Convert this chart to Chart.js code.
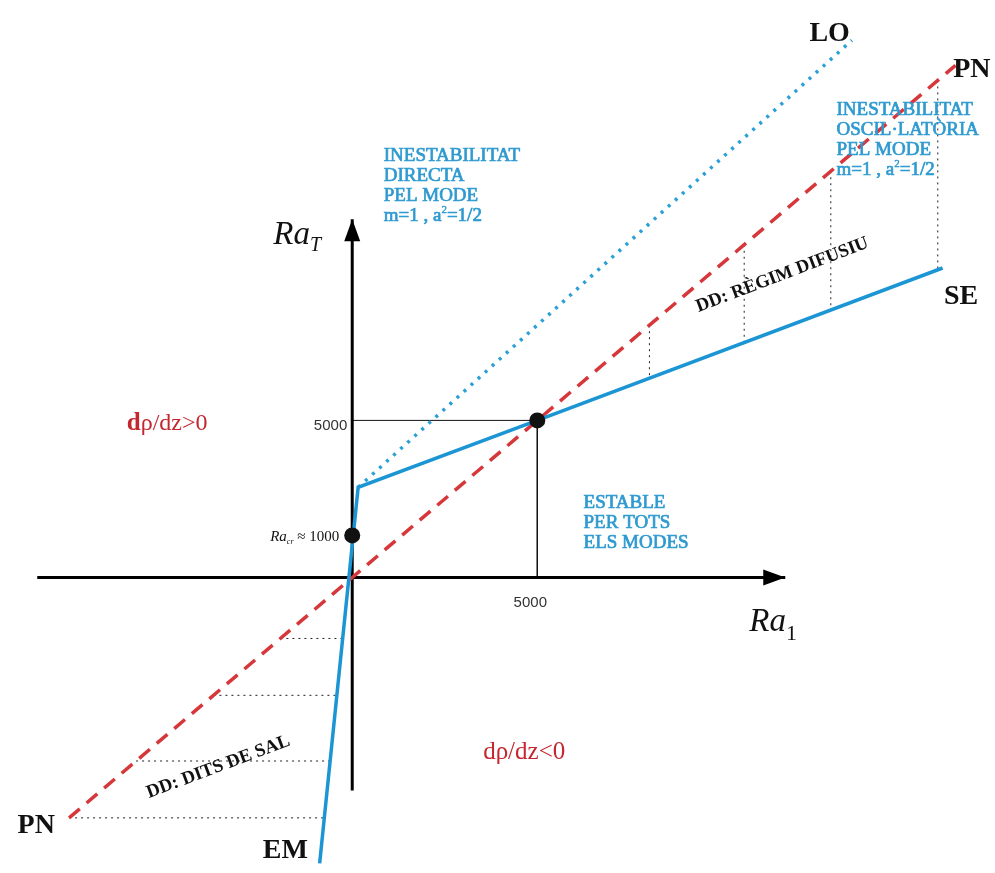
<!DOCTYPE html>
<html><head><meta charset="utf-8">
<script src="https://cdn.jsdelivr.net/npm/chart.js@4/dist/chart.umd.min.js"></script>
<style>html,body{margin:0;padding:0;background:#fff}canvas{display:block}</style>
</head><body>
<canvas id="c" width="995" height="873"></canvas>
<script>
// ---------- data (Ra1 on x, RaT on y) ----------
const xLimits = [-9300, 17150];
const yLimits = [-9150, 18125];
const axisX = [-8510, 11700];
const axisY = [-6780, 11400];
const pnX = [-7650, 16300];
const pnY = [-7650, 16300];
const seX = [-880, 160, 5000, 15950];
const seY = [-9100, 2870, 5000, 9850];
const loX = [160, 13500];
const loY = [2870, 17100];
const critX = [0, 5000];
const critY = [1340, 5000];
const refValue = 5000;
const hatchUpX = [8030, 10590, 12930, 15820];
const hatchUpTop = [8030, 10590, 12930, 15820];
const hatchUpBottom = [6350, 7480, 8510, 9790];
const hatchLowY = [-1940, -3750, -5840, -7650];
const hatchLowLeft = [-1940, -3750, -5840, -7650];
const hatchLowRight = [-258, -415, -597, -760];
const tickLabel = '5000';
const leftInstabText = ['INESTABILITAT', 'DIRECTA', 'PEL MODE'];
const rightInstabText = ['INESTABILITAT', 'OSCIL·LATÒRIA', 'PEL MODE'];
const stableText = ['ESTABLE', 'PER TOTS', 'ELS MODES'];
const modeText = ['m=1 , a', '2', '=1/2'];
const lineNames = ['LO', 'PN', 'SE', 'PN', 'EM'];
const regimeText = ['DD: RÈGIM DIFUSIU', 'DD: DITS DE SAL'];
const densityText = [['d', 'ρ/dz>0'], ['dρ/dz<0']];
const critText = ['Ra', 'cr', ' ≈ 1000'];

// ---------- styling / layout ----------
const BLUE = '#1b95d3', BLUE_DOT = '#2a9fd8', RED = '#d5373a', RED_TXT = '#c4272f', BLUE_TXT = '#2f9ad0';
const SERIF = '"Liberation Serif","Times New Roman",serif';
const SANS = '"Liberation Sans",Arial,sans-serif';

const seg = (xs, ys) => xs.map((x, i) => ({x, y: ys[i]}));
const lineDs = (data, color, width, dash, order) => ({
  data, showLine: true, borderColor: color, backgroundColor: color, borderWidth: width,
  borderDash: dash || [], pointRadius: 0, fill: false, tension: 0, order, borderCapStyle: 'butt'
});

const datasets = [];
hatchUpX.forEach((x, i) => datasets.push(lineDs(seg([x, x], [hatchUpTop[i], hatchUpBottom[i]]), '#222', 1, [2, 4], 9)));
hatchLowY.forEach((y, i) => datasets.push(lineDs(seg([hatchLowLeft[i], hatchLowRight[i]], [y, y]), '#222', 1, [2, 4], 9)));
datasets.push(lineDs(seg([0, refValue, refValue], [refValue, refValue, 0]), '#111', 1, [], 8));
datasets.push(lineDs(seg(axisX, [0, 0]), '#000', 3, [], 6));
datasets.push(lineDs(seg([0, 0], axisY), '#000', 3, [], 6));
datasets.push(lineDs(seg(pnX, pnY), RED, 3.5, [14, 9], 4));
datasets.push(lineDs(seg(loX, loY), BLUE_DOT, 3.5, [3, 6.5], 3));
datasets.push(lineDs(seg(seX, seY), BLUE, 3.5, [], 2));
datasets.push({data: seg(critX, critY), showLine: false, pointRadius: 8, pointHoverRadius: 8,
  backgroundColor: '#111', borderColor: '#111', borderWidth: 0, order: 0});

function drawRich(ctx, x, y, segs, align) {
  let w = 0;
  segs.forEach(s => { ctx.font = s.font; s.w = ctx.measureText(s.t).width; w += s.w; });
  let cx = align === 'center' ? x - w / 2 : align === 'right' ? x - w : x;
  ctx.textAlign = 'left'; ctx.textBaseline = 'alphabetic';
  segs.forEach(s => {
    ctx.font = s.font; ctx.fillStyle = s.color;
    ctx.fillText(s.t, cx, y + (s.dy || 0));
    if (s.stroke) { ctx.strokeStyle = s.color; ctx.lineWidth = s.stroke; ctx.strokeText(s.t, cx, y + (s.dy || 0)); }
    cx += s.w;
  });
}

const overlay = {
  id: 'overlay',
  afterDatasetsDraw(chart) {
    const {ctx, scales: {x: sx, y: sy}} = chart;
    const px = v => sx.getPixelForValue(v), py = v => sy.getPixelForValue(v);
    ctx.save();
    // arrowheads
    ctx.fillStyle = '#000';
    const tx = px(axisX[1]), oy = py(0);
    ctx.beginPath(); ctx.moveTo(tx, oy); ctx.lineTo(tx - 22, oy - 8); ctx.lineTo(tx - 22, oy + 8); ctx.closePath(); ctx.fill();
    const ox = px(0), ty = py(axisY[1]);
    ctx.beginPath(); ctx.moveTo(ox, ty); ctx.lineTo(ox - 8, ty + 22); ctx.lineTo(ox + 8, ty + 22); ctx.closePath(); ctx.fill();

    // blue text blocks
    const bf = '19px ' + SERIF, sf = '11px ' + SERIF;
    const modeSegs = [{t: modeText[0], font: bf, color: BLUE_TXT, stroke: 0.7}, {t: modeText[1], font: sf, color: BLUE_TXT, dy: -8, stroke: 0.4}, {t: modeText[2], font: bf, color: BLUE_TXT, stroke: 0.7}];
    const block = (lines, ax, ay, withMode) => {
      let bx = px(ax), by = py(ay) + 6;
      lines.forEach((l, i) => drawRich(ctx, bx, by + i * 20, [{t: l, font: bf, color: BLUE_TXT, stroke: 0.7}], 'left'));
      if (withMode) drawRich(ctx, bx, by + lines.length * 20, modeSegs, 'left');
    };
    block(leftInstabText, 851, 13440, true);
    block(rightInstabText, 13085, 14906, true);
    block(stableText, 6250, 2406, false);

    // density labels
    drawRich(ctx, px(-6090), py(4938) + 8, [{t: densityText[0][0], font: 'bold 25px ' + SERIF, color: RED_TXT}, {t: densityText[0][1], font: '24px ' + SERIF, color: RED_TXT}], 'left');
    drawRich(ctx, px(3537), py(-5531) + 8, [{t: densityText[1][0], font: '25px ' + SERIF, color: RED_TXT}], 'left');

    // line names
    const nameAt = [[12899, 17406], [16740, 16250], [16450, 9031], [-8537, -7812], [-1809, -8594]];
    lineNames.forEach((n, i) => drawRich(ctx, px(nameAt[i][0]), py(nameAt[i][1]) + 10, [{t: n, font: 'bold 28px ' + SERIF, color: '#111'}], 'center'));

    // rotated regime labels
    const regAt = [[11622, 9625, -20.8], [-3617, -6031, -20.5]];
    regimeText.forEach((t, i) => {
      ctx.save();
      ctx.translate(px(regAt[i][0]), py(regAt[i][1]));
      ctx.rotate(regAt[i][2] * Math.PI / 180);
      ctx.font = 'bold 18.5px ' + SERIF; ctx.fillStyle = '#111'; ctx.textAlign = 'center'; ctx.textBaseline = 'middle';
      ctx.fillText(t, 0, 0);
      ctx.restore();
    });

    // axis titles
    drawRich(ctx, px(0) - 79, py(axisY[1]) + 25, [{t: 'Ra', font: 'italic 33px ' + SERIF, color: '#111'}, {t: 'T', font: 'italic 20px ' + SERIF, color: '#111', dy: 7}], 'left');
    drawRich(ctx, px(axisX[1]) - 36, py(0) + 53, [{t: 'Ra', font: 'italic 33px ' + SERIF, color: '#111'}, {t: '1', font: '22px ' + SERIF, color: '#111', dy: 9}], 'left');

    // tick labels
    drawRich(ctx, px(0) - 5, py(refValue) + 10, [{t: tickLabel, font: '15px ' + SANS, color: '#333'}], 'right');
    drawRich(ctx, px(refValue) - 7, py(0) + 29, [{t: tickLabel, font: '15px ' + SANS, color: '#333'}], 'center');

    // critical Rayleigh label
    drawRich(ctx, px(critX[0]) - 13, py(critY[0]) + 6, [
      {t: critText[0], font: 'italic 15px ' + SERIF, color: '#111'},
      {t: critText[1], font: 'italic 8px ' + SERIF, color: '#111', dy: 3},
      {t: critText[2], font: '15px ' + SERIF, color: '#111'}], 'right');
    ctx.restore();
  }
};

new Chart(document.getElementById('c'), {
  type: 'scatter',
  data: {datasets},
  options: {
    responsive: false, animation: false, devicePixelRatio: 1,
    layout: {padding: 0},
    plugins: {legend: {display: false}, tooltip: {enabled: false}},
    events: [],
    scales: {
      x: {type: 'linear', min: xLimits[0], max: xLimits[1], display: false},
      y: {type: 'linear', min: yLimits[0], max: yLimits[1], display: false}
    }
  },
  plugins: [overlay]
});
</script>
</body></html>
